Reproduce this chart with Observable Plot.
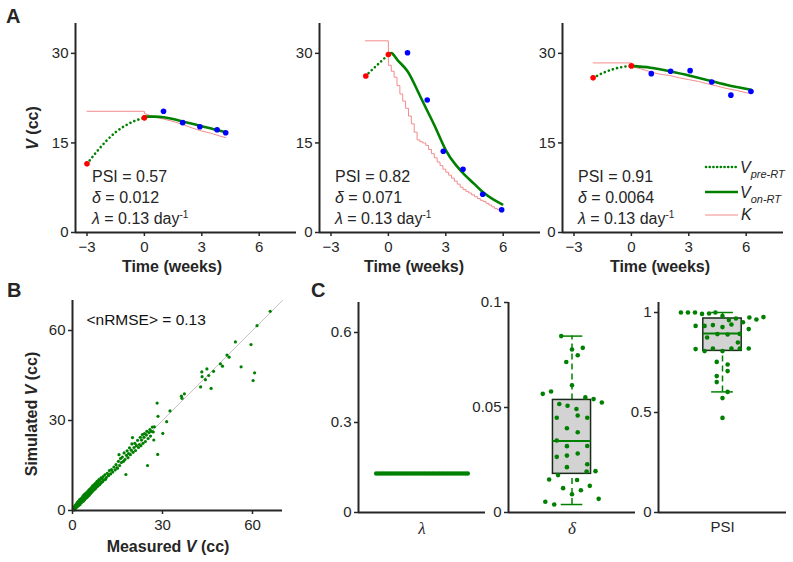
<!DOCTYPE html>
<html><head><meta charset="utf-8">
<script src="https://cdn.jsdelivr.net/npm/d3@7"></script>
<script src="https://cdn.jsdelivr.net/npm/@observablehq/plot@0.6"></script>
<style>
body{margin:0;background:#fff;}
#fig{position:relative;width:793px;height:562px;overflow:hidden;font-family:"Liberation Sans",Arial,sans-serif;color:#262626;background:#fff;}
</style></head><body><div id="fig"></div>
<script>
// ---------- DATA ----------
// Panel A (three patients): weeks and volume (cc)
const xTicksA = [-3, 0, 3, 6];
const yTicksA = [0, 15, 30];
const xDomA = [-3.6, 7.95];
const yDomA = [0, 35];

const preW1 = [-3, -2.5, -2, -1.5, -1, -0.5, 0];
const preV1 = [11.5, 13.5, 15.3, 16.8, 17.9, 18.7, 19.2];
const onW1 = [0, 0.5, 1, 1.5, 2, 2.5, 3, 3.5, 4, 4.25];
const onV1 = [19.4, 19.4, 19.3, 19.0, 18.6, 18.2, 17.8, 17.4, 17.0, 16.8];
const kW1 = [-3, 0, 0, 0.5, 1, 1.5, 2, 2.5, 3, 3.5, 4, 4.25];
const kV1 = [20.3, 20.3, 19.9, 19.4, 19.0, 18.6, 18.1, 17.5, 17.0, 16.6, 16.1, 15.9];
const redW1 = [-3, 0], redV1 = [11.5, 19.2];
const blueW1 = [1, 2, 2.9, 3.8, 4.25], blueV1 = [20.3, 18.4, 17.7, 17.2, 16.7];

const preW2 = [-1.2, -0.9, -0.6, -0.3, 0];
const preV2 = [26.2, 27.1, 28.0, 28.9, 29.8];
const onW2 = [0, 0.2, 0.5, 1, 1.5, 2, 2.5, 3, 3.5, 4, 4.5, 5, 5.5, 5.95];
const onV2 = [29.8, 30.0, 28.8, 27.0, 23.9, 20.6, 17.3, 13.8, 11.4, 9.6, 8.1, 6.6, 5.5, 4.7];
const kW2 = [-1.2, 0, 0, 0.15, 0.3, 0.45, 0.6, 0.75, 0.9, 1.05, 1.2, 1.35, 1.5, 1.65, 1.8, 1.95, 2.1, 2.25, 2.4, 2.55, 2.7, 2.85, 3.0, 3.15, 3.3, 3.45, 3.6, 3.75, 3.9, 4.05, 4.2, 4.35, 4.5, 4.65, 4.8, 4.95, 5.1, 5.25, 5.4, 5.55, 5.7, 5.85, 5.95];
const kV2 = [32.1, 32.1, 28.0, 27.0, 26.0, 24.6, 23.2, 22.0, 20.8, 19.5, 18.2, 16.8, 15.5, 15.2, 15.0, 14.6, 13.9, 13.2, 12.5, 11.8, 11.2, 10.6, 10.1, 9.6, 9.1, 8.6, 8.1, 7.6, 7.2, 6.9, 6.6, 6.3, 6.0, 5.7, 5.4, 5.2, 4.9, 4.6, 4.3, 4.0, 3.8, 3.6, 3.4];
const redW2 = [-1.18, 0], redV2 = [26.2, 29.8];
const blueW2 = [1.0, 2.03, 2.87, 3.9, 4.93, 5.92], blueV2 = [30.1, 22.2, 13.6, 10.6, 6.4, 3.8];

const preW3 = [-2, -1.5, -1, -0.5, 0];
const preV3 = [25.9, 26.7, 27.3, 27.7, 27.9];
const onW3 = [0, 1, 2, 3, 4, 5, 6.25];
const onV3 = [27.9, 27.6, 27.0, 26.3, 25.5, 24.7, 23.9];
const kW3 = [-2, 0, 0, 0.5, 1, 1.5, 2, 2.5, 3, 3.5, 4, 4.5, 5, 5.5, 6, 6.25];
const kV3 = [28.4, 28.4, 27.8, 27.4, 26.9, 26.5, 26.3, 25.9, 25.6, 25.3, 24.9, 24.5, 24.1, 23.8, 23.4, 23.3];
const redW3 = [-2, 0], redV3 = [25.9, 27.9];
const blueW3 = [1.04, 2.05, 3.07, 4.2, 5.2, 6.25], blueV3 = [26.6, 27.0, 27.1, 25.2, 23.0, 23.6];

const psiVals = ["0.57", "0.82", "0.91"];
const deltaVals = ["0.012", "0.071", "0.0064"];
const lambdaVal = "0.13";

// Panel B: measured vs simulated volume (cc)
const bTicks = [0, 30, 60];
const bDom = [0, 70];
const measured = [0.3,0.5,0.6,0.8,0.9,1.0,1.1,1.2,1.3,1.4,1.5,1.6,1.7,1.8,1.9,2.0,2.1,2.2,2.3,2.4,2.5,2.6,2.7,2.8,2.9,3.0,3.1,3.2,3.3,3.4,3.5,3.6,3.7,3.8,3.9,4.0,4.1,4.2,4.3,4.4,4.5,4.6,4.7,4.8,4.9,5.0,5.1,5.2,5.3,5.4,5.5,5.6,5.7,5.8,5.9,6.0,6.1,6.2,6.3,6.4,6.5,6.6,6.7,6.8,6.9,7.0,7.2,7.3,7.4,7.6,7.7,7.8,8.0,8.1,8.2,8.4,8.5,8.6,8.8,9.0,9.1,9.3,9.5,9.6,9.8,10.0,10.2,10.5,10.8,11.0,
  11.3,11.6,12.0,12.3,12.7,13.0,13.4,13.8,14.2,14.5,14.8,15.0,15.3,15.5,15.7,16.0,16.3,16.6,17.0,17.2,17.5,17.8,18.0,18.2,18.5,18.7,19.0,19.3,19.6,19.8,20.0,20.2,20.5,20.8,21.0,21.3,21.7,22.0,22.3,22.6,22.8,23.0,23.3,23.5,23.8,24.0,24.3,24.6,24.8,25.0,25.2,25.5,25.8,26.0,26.3,26.6,26.9,27.1,27.3,
  28.2,28.4,28.5,30.1,31.4,32.5,36.3,36.5,37.3,42.7,43.1,43.2,44.3,44.8,45.4,46.2,47.0,49.3,50.0,51.5,52.2,54.3,56.2,59.5,60.2,60.7,61.5,65.9];
const simulated = [0.6,0.2,1.2,0.5,1.6,0.7,1.9,1.0,2.1,1.2,1.8,2.6,1.4,2.9,1.6,2.4,3.1,1.8,2.9,3.6,2.0,3.3,2.5,3.9,2.6,3.6,2.8,4.3,3.0,3.9,4.8,3.1,4.4,3.5,5.3,3.6,4.9,4.0,5.6,4.1,5.3,4.4,6.0,4.3,5.7,4.7,6.4,4.8,6.0,5.1,6.9,5.2,6.5,5.6,7.2,5.7,6.9,6.0,7.6,6.2,7.3,6.5,8.2,6.5,7.8,6.9,8.6,7.0,8.3,7.3,9.1,7.5,8.8,8.0,9.7,8.1,9.4,8.5,10.3,8.6,10.0,9.0,10.9,9.3,10.6,9.6,11.3,10.2,11.9,10.4,
  11.0,12.4,11.6,13.3,12.2,13.6,12.8,14.5,13.5,15.3,14.2,14.1,16.4,18.6,15.0,17.3,16.0,17.8,16.4,19.2,17.0,12.0,18.4,19.9,17.6,19.0,20.9,18.6,20.1,22.2,24.3,19.4,21.0,22.4,20.0,21.6,23.4,21.0,22.0,24.4,21.6,23.5,25.3,22.4,24.4,25.6,23.0,25.2,26.4,15.0,24.0,26.0,27.0,24.8,26.4,27.8,26.2,23.5,27.9,
  35.8,18.7,31.4,25.7,29.6,33.2,38.1,37.4,38.9,41.2,46.2,44.6,43.6,47.2,45.0,40.7,46.4,48.9,48.1,51.8,51.1,56.2,47.9,55.3,43.3,45.9,61.6,66.4];
const nRMSE = "0.13";

// Panel C: parameter distributions
const lamTicks = [0, 0.3, 0.6], lamDom = [0, 0.7];
const lamVals = [0.13,0.13,0.13,0.13,0.13,0.13,0.13,0.13,0.13,0.13,0.13,0.13,0.13,0.13,0.13,0.13,0.13,0.13,0.13,0.13,0.13,0.13,0.13,0.13,0.13,0.13,0.13,0.13,0.13,0.13,0.13,0.13,0.13,0.13,0.13,0.13,0.13];
const lamJit = [-0.72,-0.68,-0.64,-0.6,-0.56,-0.52,-0.48,-0.44,-0.4,-0.36,-0.32,-0.28,-0.24,-0.2,-0.16,-0.12,-0.08,-0.04,0,0.04,0.08,0.12,0.16,0.2,0.24,0.28,0.32,0.36,0.4,0.44,0.48,0.52,0.56,0.6,0.64,0.68,0.72];

const delTicks = [0, 0.05, 0.1], delDom = [0, 0.1];
const delVals = [0.0840,0.0776,0.0784,0.0749,0.0717,0.0606,0.0565,0.0576,0.0548,0.0540,0.0524,0.0517,0.0508,0.0493,0.0451,0.0462,0.0451,0.0401,0.0382,0.0343,0.0316,0.0317,0.0265,0.0271,0.0281,0.0216,0.0230,0.0195,0.0197,0.0178,0.0157,0.0155,0.0116,0.0106,0.0127,0.0087,0.0065,0.0051,0.0038];
const delJit = [-0.17,0.0,0.17,0.09,-0.09,0.0,-0.46,-0.33,0.21,0.34,0.47,-0.2,-0.07,0.07,-0.24,0.09,0.24,-0.08,0.09,-0.24,-0.08,0.24,-0.24,-0.08,0.09,-0.08,0.24,0.23,0.37,-0.22,-0.36,0.08,-0.14,0.14,0.28,0.0,0.42,-0.42,-0.28];
const delBox = [0.0038, 0.0184, 0.0341, 0.0536, 0.0840]; // low whisker, Q1, median, Q3, high whisker

const psiTicks = [0, 0.5, 1], psiDom = [0, 1.05];
const psiPts = [1.0,1.0,1.0,0.993,0.995,1.0,0.982,0.962,0.97,0.951,0.975,0.965,0.977,0.933,0.933,0.937,0.927,0.94,0.875,0.892,0.89,0.85,0.917,0.893,0.817,0.807,0.82,0.807,0.82,0.82,0.82,0.753,0.74,0.707,0.682,0.652,0.603,0.572,0.473];
const psiJit = [-0.65,-0.54,-0.43,-0.32,-0.21,-0.11,0.0,0.10,0.21,0.32,0.42,0.53,0.64,-0.42,-0.28,-0.15,0.0,0.14,-0.24,-0.08,0.08,0.24,0.41,0.27,-0.42,-0.28,-0.15,0.0,0.14,0.27,0.41,-0.09,0.08,0.08,-0.09,-0.09,0.08,0.0,0.0];
const psiBox = [0.603, 0.808, 0.895, 0.970, 1.0];

// ---------- STYLE ----------
const FONT = '"Liberation Sans", Arial, sans-serif';
const AX = "#262626", GREEN = "#008000", BLUE = "#0000ff", RED = "#ff0000", PINK = "#f28b8b";
const fig = document.getElementById("fig");
const zip = (xs, ys) => xs.map((x, i) => ({x, y: ys[i]}));
const minus = d => d < 0 ? "\u2212" + (-d) : String(d);

function place(el, left, top) {
  el.style.position = "absolute";
  el.style.left = left + "px";
  el.style.top = top + "px";
  el.style.overflow = "visible";
  fig.appendChild(el);
}
function panel(f, xs, ys, marks) {
  const ml = 70, mr = 15, mt = 12, mb = 55;
  const svg = Plot.plot({
    width: f.x1 - f.x0 + ml + mr, height: f.y1 - f.y0 + mt + mb,
    marginLeft: ml, marginRight: mr, marginTop: mt, marginBottom: mb,
    x: xs, y: ys,
    style: {fontFamily: FONT, fontSize: "15px", color: AX, background: "transparent", overflow: "visible"},
    marks
  });
  place(svg, f.x0 - ml, f.y0 - mt);
}
function txt(html, x, y, css = {}, anchor = "center") {
  const d = document.createElement("div");
  d.innerHTML = html;
  Object.assign(d.style, {position: "absolute", left: x + "px", top: y + "px", whiteSpace: "nowrap", lineHeight: "1",
    transform: anchor === "left" ? "translate(0,-50%)" : "translate(-50%,-50%)"}, css);
  fig.appendChild(d);
}
function frameRules(xmin) {
  return [Plot.ruleX([xmin], {stroke: AX, strokeWidth: 2}), Plot.ruleY([0], {stroke: AX, strokeWidth: 2})];
}

// ---------- PANEL A ----------
const aFrames = [{x0: 75, x1: 296}, {x0: 318.5, x1: 539.5}, {x0: 562, x1: 783}];
const aSets = [
  [preW1, preV1, onW1, onV1, kW1, kV1, redW1, redV1, blueW1, blueV1, "linear"],
  [preW2, preV2, onW2, onV2, kW2, kV2, redW2, redV2, blueW2, blueV2, "step-after"],
  [preW3, preV3, onW3, onV3, kW3, kV3, redW3, redV3, blueW3, blueV3, "linear"]
];
aSets.forEach((s, i) => {
  const f = {...aFrames[i], y0: 23, y1: 232};
  panel(f, {domain: xDomA}, {domain: yDomA}, [
    Plot.axisX({ticks: xTicksA, tickFormat: minus, tickSize: 4, tickPadding: 5, label: null, fontSize: 15, strokeWidth: 1.5}),
    Plot.axisY({ticks: yTicksA, tickSize: 4, tickPadding: 3, label: null, fontSize: 15, strokeWidth: 1.5}),
    Plot.line(zip(s[4], s[5]), {x: "x", y: "y", stroke: PINK, strokeWidth: 1, curve: s[10]}),
    Plot.line(zip(s[0], s[1]), {x: "x", y: "y", stroke: GREEN, strokeWidth: 2.6, strokeDasharray: "0.1,4.2", strokeLinecap: "round", curve: "natural"}),
    Plot.line(zip(s[2], s[3]), {x: "x", y: "y", stroke: GREEN, strokeWidth: 2.6, curve: "natural"}),
    Plot.dot(zip(s[6], s[7]), {x: "x", y: "y", r: 2.8, fill: RED}),
    Plot.dot(zip(s[8], s[9]), {x: "x", y: "y", r: 2.8, fill: BLUE}),
    ...frameRules(xDomA[0])
  ]);
});
// axis titles A
txt("<b>Time (weeks)</b>", 172, 267, {fontSize: "16px"});
txt("<b>Time (weeks)</b>", 414, 267, {fontSize: "16px"});
txt("<b>Time (weeks)</b>", 660, 267, {fontSize: "16px"});
txt("<b><i>V</i> (cc)</b>", 33, 128, {fontSize: "16px", transform: "translate(-50%,-50%) rotate(-90deg)"});
// annotations
const annX = [92, 335, 578];
annX.forEach((x, i) => {
  txt("PSI = " + psiVals[i], x, 177, {fontSize: "16px"}, "left");
  txt("<i>\u03b4</i> = " + deltaVals[i], x, 198, {fontSize: "16px"}, "left");
  txt("<i>\u03bb</i> = " + lambdaVal + " day<span style='font-size:10px;position:relative;top:-6px'>-1</span>", x, 219, {fontSize: "16px"}, "left");
});
// legend (panel A3)
const leg = d3.create("svg").attr("width", 36).attr("height", 60);
leg.append("line").attr("x1", 2).attr("x2", 34).attr("y1", 6).attr("y2", 6).attr("stroke", GREEN).attr("stroke-width", 2.6).attr("stroke-dasharray", "0.1,3.6").attr("stroke-linecap", "round");
leg.append("line").attr("x1", 1).attr("x2", 34).attr("y1", 31).attr("y2", 31).attr("stroke", GREEN).attr("stroke-width", 2.6);
leg.append("line").attr("x1", 1).attr("x2", 34).attr("y1", 54).attr("y2", 54).attr("stroke", PINK).attr("stroke-width", 1);
place(leg.node(), 704, 161);
const sub = t => "<span style='font-size:11px;position:relative;top:5px'><i>" + t + "</i></span>";
txt("<i>V</i>" + sub("pre-RT"), 740, 168, {fontSize: "16px"}, "left");
txt("<i>V</i>" + sub("on-RT"), 740, 193, {fontSize: "16px"}, "left");
txt("<i>K</i>", 741, 215, {fontSize: "16px"}, "left");

// ---------- PANEL B ----------
const fB = {x0: 72, x1: 282, y0: 300, y1: 510};
panel(fB, {domain: bDom}, {domain: bDom}, [
  Plot.axisX({ticks: bTicks, tickSize: 4, tickPadding: 5, label: null, fontSize: 15, strokeWidth: 1.5}),
  Plot.axisY({ticks: bTicks, tickSize: 4, tickPadding: 3, label: null, fontSize: 15, strokeWidth: 1.5}),
  Plot.line(bDom.map(v => ({x: v, y: v})), {x: "x", y: "y", stroke: "#c4c4c4", strokeWidth: 1}),
  Plot.dot(zip(measured, simulated), {x: "x", y: "y", r: 1.6, fill: GREEN}),
  Plot.text(["<nRMSE> = " + nRMSE], {frameAnchor: "top-left", textAnchor: "start", dx: 14, dy: 13, fontSize: 15.5, fill: "#111"}),
  ...frameRules(bDom[0])
]);
txt("<b>Measured <i>V</i> (cc)</b>", 168, 547, {fontSize: "16px"});
txt("<b>Simulated <i>V</i> (cc)</b>", 32, 414, {fontSize: "16px", transform: "translate(-50%,-50%) rotate(-90deg)"});

// ---------- PANEL C ----------
const cY0 = 302.3, cY1 = 512.3;
function cPanel(f, dom, ticks, vals, jit, box, label, serif) {
  const marks = [
    Plot.axisY({ticks, tickSize: 4, tickPadding: 3, label: null, fontSize: 15, strokeWidth: 1.5, tickFormat: d => String(d)}),
    Plot.axisX({ticks: [0], tickSize: 0, tickPadding: 9, label: null, tickFormat: () => label,
      fontSize: serif ? 17 : 15, fontFamily: serif ? '"Liberation Serif", serif' : FONT, fontStyle: serif ? "italic" : "normal"})
  ];
  if (box) {
    const b = {lo: box[0], q1: box[1], med: box[2], q3: box[3], hi: box[4]};
    marks.push(
      Plot.ruleX([b], {x: 0, y1: "q3", y2: "hi", stroke: GREEN, strokeWidth: 1.5, strokeDasharray: "6,4"}),
      Plot.ruleX([b], {x: 0, y1: "lo", y2: "q1", stroke: GREEN, strokeWidth: 1.5, strokeDasharray: "6,4"}),
      Plot.ruleY([b], {y: "hi", x1: -0.17, x2: 0.17, stroke: GREEN, strokeWidth: 1.5}),
      Plot.ruleY([b], {y: "lo", x1: -0.17, x2: 0.17, stroke: GREEN, strokeWidth: 1.5}),
      Plot.rect([b], {x1: -0.3, x2: 0.3, y1: "q1", y2: "q3", fill: "#d3d3d3", stroke: "#1b2a1b", strokeWidth: 1.5}),
      Plot.ruleY([b], {y: "med", x1: -0.3, x2: 0.3, stroke: GREEN, strokeWidth: 2})
    );
  }
  marks.push(Plot.dot(zip(jit, vals), {x: "x", y: "y", r: 2.3, fill: GREEN}));
  marks.push(...frameRules(-1));
  panel({...f, y0: cY0, y1: cY1}, {domain: [-1, 1]}, {domain: dom}, marks);
}
cPanel({x0: 358, x1: 485}, lamDom, lamTicks, lamVals, lamJit, null, "\u03bb", true);
cPanel({x0: 508, x1: 635}, delDom, delTicks, delVals, delJit, delBox, "\u03b4", true);
cPanel({x0: 658, x1: 786}, psiDom, psiTicks, psiPts, psiJit, psiBox, "PSI", false);

// ---------- PANEL LETTERS ----------
txt("<b>A</b>", 6, 16, {fontSize: "20px"}, "left");
txt("<b>B</b>", 7, 290, {fontSize: "20px"}, "left");
txt("<b>C</b>", 311, 290, {fontSize: "20px"}, "left");
</script></body></html>
